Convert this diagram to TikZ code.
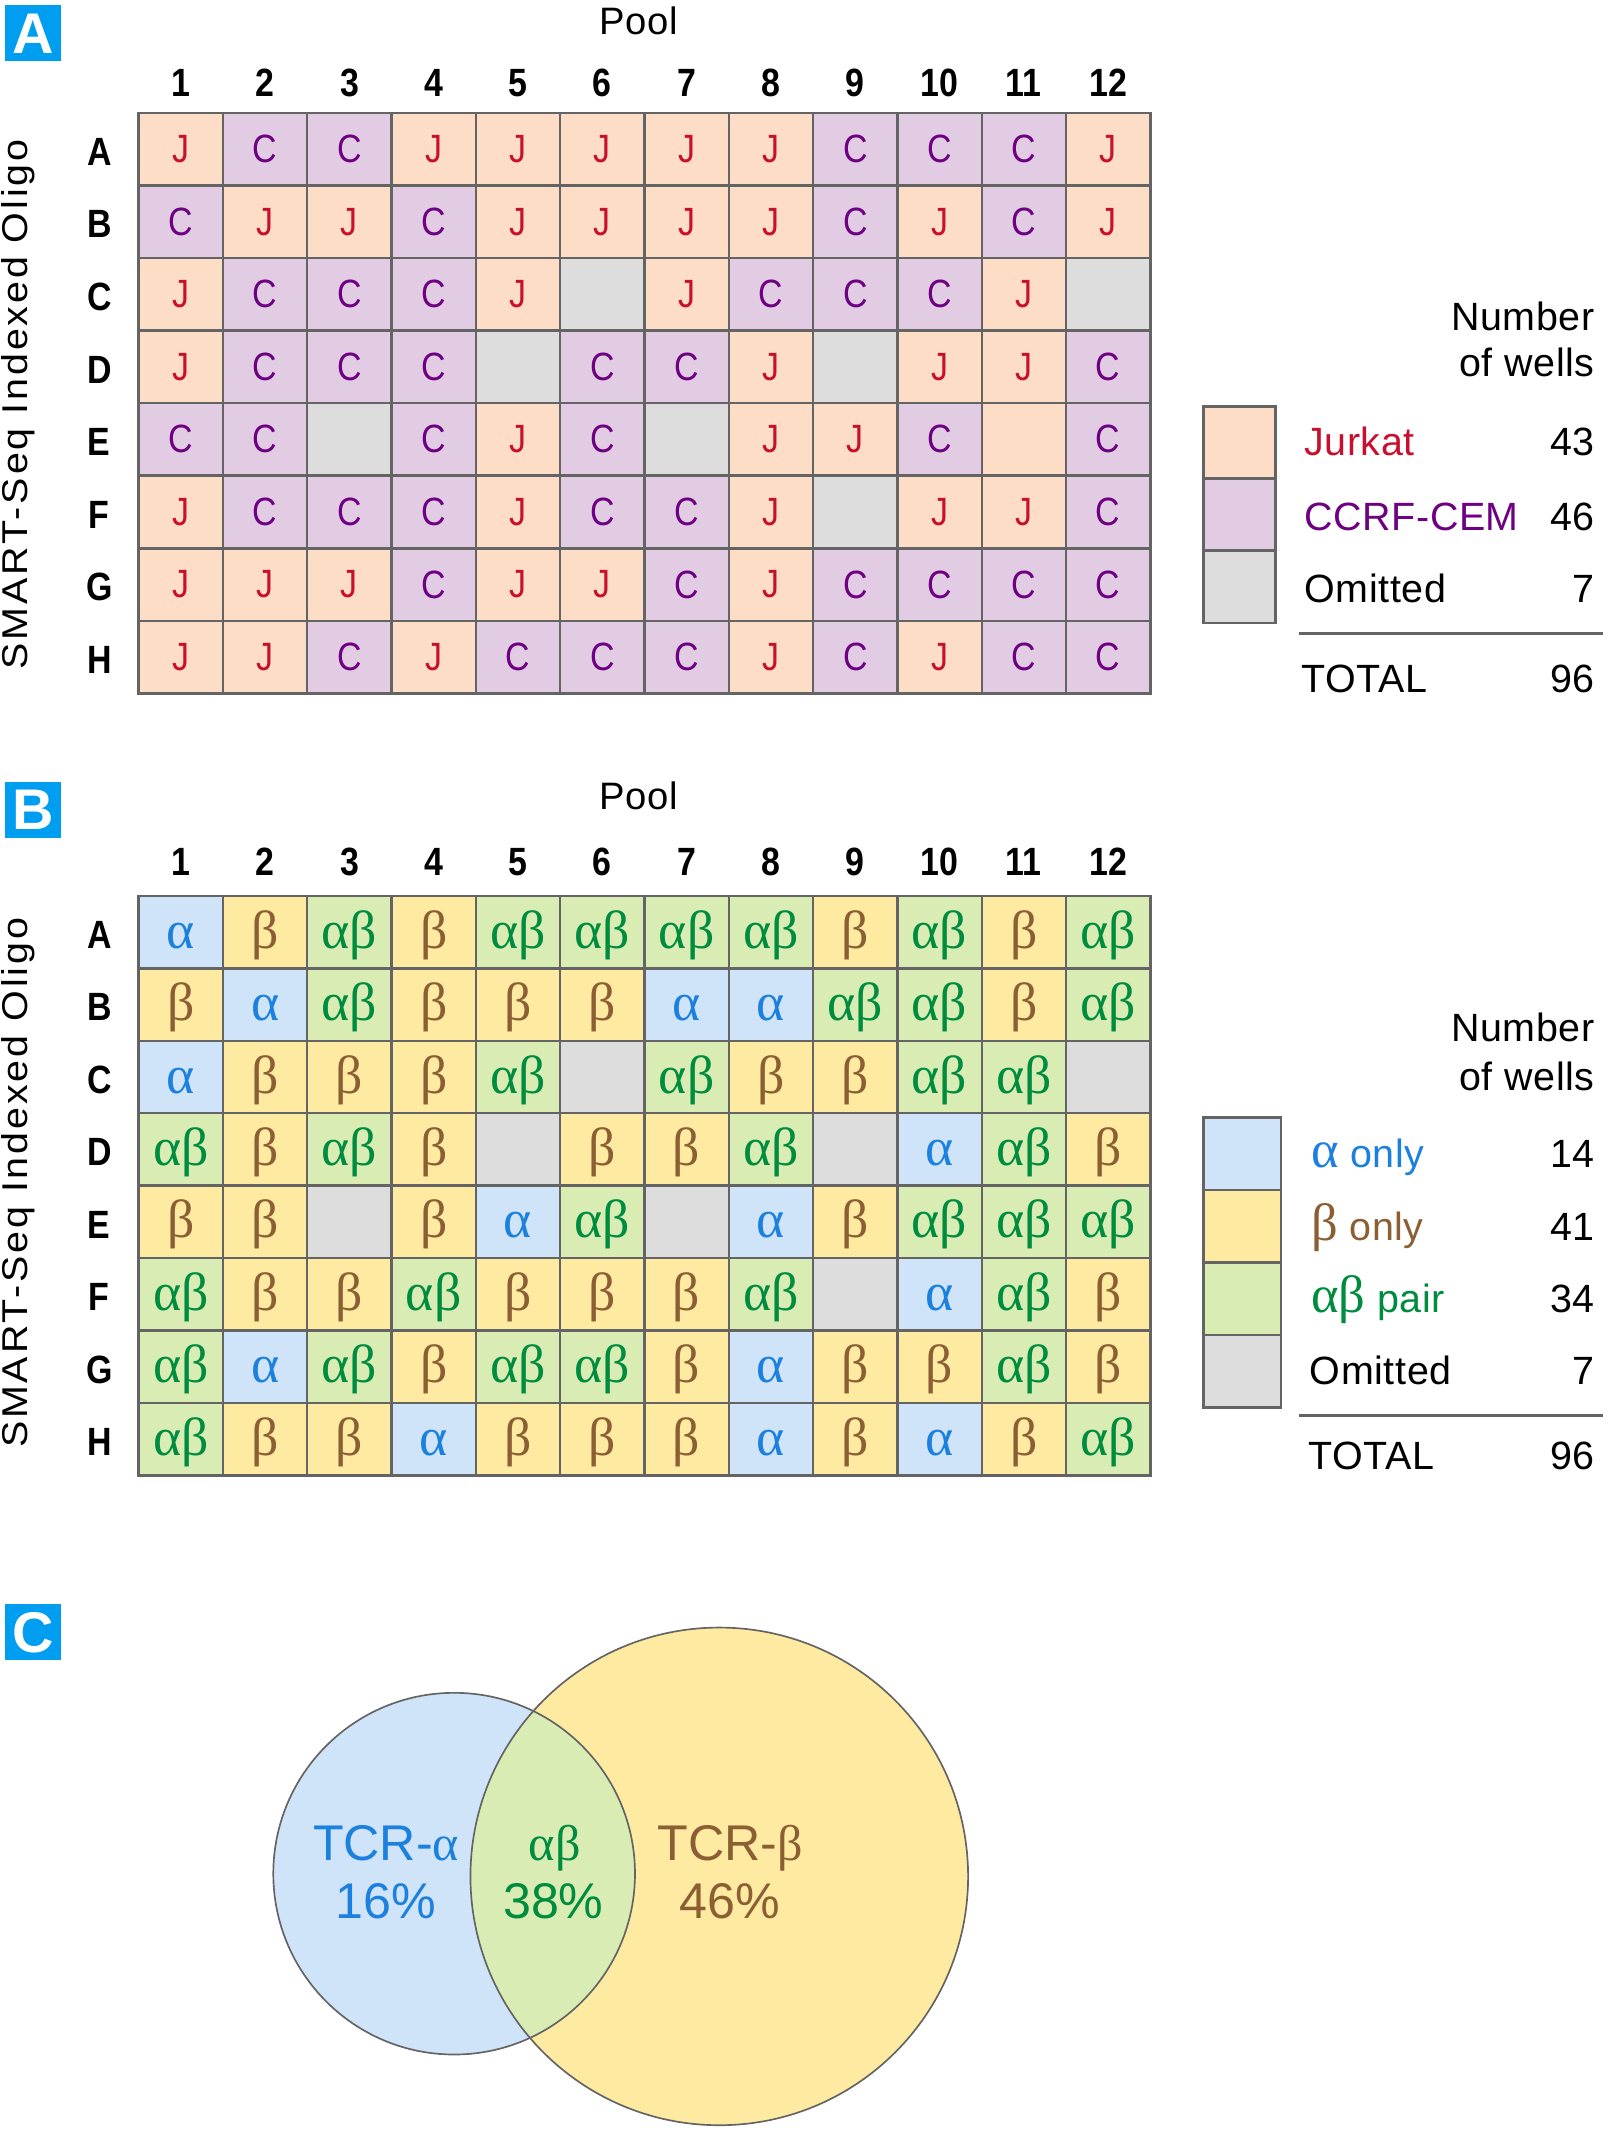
\documentclass[tikz,border=0pt]{standalone}
\usepackage{fontspec}
\usepackage{xcolor}
\setmainfont{Liberation Sans}
\newfontfamily\cellfont[FakeStretch=0.86]{Liberation Sans}
\newfontfamily\greekfont{Liberation Serif}
\newfontfamily\sidefont[FakeStretch=1.1,LetterSpace=8]{Liberation Sans}
\newfontfamily\legfont[LetterSpace=1.5]{Liberation Sans}

\definecolor{panelblue}{RGB}{0,158,240}
\definecolor{jurkatbg}{RGB}{253,221,198}
\definecolor{cembg}{RGB}{226,204,228}
\definecolor{omitbg}{RGB}{220,221,220}
\definecolor{jurkattxt}{RGB}{200,16,46}
\definecolor{cemtxt}{RGB}{110,0,130}
\definecolor{alphabg}{RGB}{207,228,248}
\definecolor{betabg}{RGB}{254,234,160}
\definecolor{pairbg}{RGB}{216,236,180}
\definecolor{alphatxt}{RGB}{28,128,222}
\definecolor{betatxt}{RGB}{140,94,52}
\definecolor{pairtxt}{RGB}{0,140,62}
\definecolor{gridline}{RGB}{100,100,100}

\tikzset{
	well/.style={draw=gridline, line width=1pt, minimum width=12.4mm, minimum height=10.66mm, inner sep=0pt, font=\cellfont\fontsize{16.5}{18}\selectfont},
	wellJ/.style={well, fill=jurkatbg, text=jurkattxt, node contents={J}},
	wellC/.style={well, fill=cembg, text=cemtxt, node contents={C}},
	wellX/.style={well, fill=jurkatbg, node contents={}},
	wellO/.style={well, fill=omitbg, node contents={}},
	gwell/.style={well, font=\greekfont\fontsize{22.5}{24}\selectfont, text height=16pt, text depth=2.6pt},
	wella/.style={gwell, fill=alphabg, text=alphatxt, node contents={α}},
	wellb/.style={gwell, fill=betabg, text=betatxt, node contents={β}},
	wellp/.style={gwell, fill=pairbg, text=pairtxt, node contents={αβ}},
	rowlab/.style={inner sep=0pt, font=\cellfont\bfseries\fontsize{16.5}{18}\selectfont},
	collab/.style={inner sep=0pt, font=\cellfont\bfseries\fontsize{16.5}{18}\selectfont},
	poollab/.style={inner sep=0pt, font=\legfont\fontsize{16}{18}\selectfont},
	sidelab/.style={rotate=90, anchor=base, inner sep=0pt, font=\sidefont\fontsize{15}{16}\selectfont},
	plab/.style={fill=panelblue, text=white, minimum size=8.2mm, inner sep=0pt, font=\bfseries\fontsize{24}{24}\selectfont},
	swatch/.style={draw=gridline, line width=1pt, minimum width=10.6mm, minimum height=10.66mm, inner sep=0pt},
	legtxt/.style={anchor=base west, inner sep=0pt, font=\legfont\fontsize{16.5}{18}\selectfont},
	legnum/.style={anchor=base east, inner sep=0pt, font=\legfont\fontsize{16.5}{18}\selectfont},
	legrule/.style={draw=gridline, line width=1pt},
	venntxt/.style={anchor=base, inner sep=0pt, font=\fontsize{21}{22}\selectfont},
	vennline/.style={draw=gridline, line width=0.7pt}
}

\begin{document}
\begin{tikzpicture}[x=0.2mm, y=-0.2mm]
	\useasboundingbox (0,0) rectangle (1183,1568);
	
	%panel A
	\node[plab] (labA) at (24.5,24.5) {A};
	\node[poollab] (poolA) at (470,15) {Pool};
	\node[sidelab] (sideA) at (20,297.5) {SMART-Seq Indexed Oligo};
	\foreach \c in {1,...,12}
		\node[collab] (ca\c) at ({71+62*\c},61) {\c};
	\foreach \l [count=\r] in {A,...,H}
		\node[rowlab] (ra\r) at (73,{56.3+53.375*\r+2}) {\l};
	\foreach \row [count=\r] in {
		{J,C,C,J,J,J,J,J,C,C,C,J},
		{C,J,J,C,J,J,J,J,C,J,C,J},
		{J,C,C,C,J,O,J,C,C,C,J,O},
		{J,C,C,C,O,C,C,J,O,J,J,C},
		{C,C,O,C,J,C,O,J,J,C,X,C},
		{J,C,C,C,J,C,C,J,O,J,J,C},
		{J,J,J,C,J,J,C,J,C,C,C,C},
		{J,J,C,J,C,C,C,J,C,J,C,C}}{
		\foreach \w [count=\c] in \row
			\node (a\r-\c) at ({71+62*\c},{56.3+53.375*\r}) [well\w];
	}
	
	\node[legnum] (numA) at (1173,243) {Number};
	\node[legnum] (wellsA) at (1173,277) {of wells};
	\node[swatch, fill=jurkatbg] (swJ) at (911.5,325.5) {};
	\node[swatch, fill=cembg] (swC) at (911.5,378.5) {};
	\node[swatch, fill=omitbg] (swOA) at (911.5,431.5) {};
	\node[legtxt, text=jurkattxt] (txJ) at (959,335) {Jurkat};
	\node[legtxt, text=cemtxt] (txC) at (959,390) {CCRF-CEM};
	\node[legtxt] (txOA) at (959,443) {Omitted};
	\node[legnum] (nJ) at (1173,335) {43};
	\node[legnum] (nC) at (1173,390) {46};
	\node[legnum] (nOA) at (1173,443) {7};
	\coordinate (ruleA1) at (955,466);
	\coordinate (ruleA2) at (1179,466);
	\draw[legrule] (ruleA1) -- (ruleA2);
	\node[legtxt] (totA) at (957,509) {TOTAL};
	\node[legnum] (nTA) at (1173,509) {96};
	
	%panel B
	\node[plab] (labB) at (24.5,595.5) {B};
	\node[poollab] (poolB) at (470,585) {Pool};
	\node[sidelab] (sideB) at (20,870) {SMART-Seq Indexed Oligo};
	\foreach \c in {1,...,12}
		\node[collab] (cb\c) at ({71+62*\c},634) {\c};
	\foreach \l [count=\r] in {A,...,H}
		\node[rowlab] (rb\r) at (73,{632.4+53.25*\r+2}) {\l};
	\foreach \row [count=\r] in {
		{a,b,p,b,p,p,p,p,b,p,b,p},
		{b,a,p,b,b,b,a,a,p,p,b,p},
		{a,b,b,b,p,O,p,b,b,p,p,O},
		{p,b,p,b,O,b,b,p,O,a,p,b},
		{b,b,O,b,a,p,O,a,b,p,p,p},
		{p,b,b,p,b,b,b,p,O,a,p,b},
		{p,a,p,b,p,p,b,a,b,b,p,b},
		{p,b,b,a,b,b,b,a,b,a,b,p}}{
		\foreach \w [count=\c] in \row
			\node (b\r-\c) at ({71+62*\c},{632.4+53.25*\r}) [well\w];
	}
	
	\node[legnum] (numB) at (1173,766) {Number};
	\node[legnum] (wellsB) at (1173,802) {of wells};
	\node[swatch, minimum width=11.4mm, fill=alphabg] (swa) at (913.5,848.6) {};
	\node[swatch, minimum width=11.4mm, fill=betabg] (swb) at (913.5,901.9) {};
	\node[swatch, minimum width=11.4mm, fill=pairbg] (swp) at (913.5,955.1) {};
	\node[swatch, minimum width=11.4mm, fill=omitbg] (swOB) at (913.5,1008.4) {};
	\node[legtxt, text=alphatxt] (txa) at (964,859) {{\greekfont\fontsize{22}{22}\selectfont α} only};
	\node[legtxt, text=betatxt] (txb) at (964,912) {{\greekfont\fontsize{22}{22}\selectfont β} only};
	\node[legtxt, text=pairtxt] (txp) at (964,965) {{\greekfont\fontsize{22}{22}\selectfont αβ} pair};
	\node[legtxt] (txOB) at (963,1018) {Omitted};
	\node[legnum] (na) at (1173,859) {14};
	\node[legnum] (nb) at (1173,912) {41};
	\node[legnum] (np) at (1173,965) {34};
	\node[legnum] (nOB) at (1173,1018) {7};
	\coordinate (ruleB1) at (955,1041);
	\coordinate (ruleB2) at (1179,1041);
	\draw[legrule] (ruleB1) -- (ruleB2);
	\node[legtxt] (totB) at (962,1081) {TOTAL};
	\node[legnum] (nTB) at (1173,1081) {96};
	
	%panel C
	\node[plab] (labC) at (24.5,1200.5) {C};
	\coordinate (tcrA) at (334,1378);
	\coordinate (tcrB) at (529,1380);
	\fill[betabg] (tcrB) circle (3.66cm);
	\fill[alphabg] (tcrA) circle (2.66cm);
	\begin{scope}
		\clip (tcrA) circle (2.66cm);
		\fill[pairbg] (tcrB) circle (3.66cm);
	\end{scope}
	\draw[vennline] (tcrB) circle (3.66cm);
	\draw[vennline] (tcrA) circle (2.66cm);
	\node[venntxt, text=alphatxt] (vA) at (284,1368) {TCR-{\greekfont α}};
	\node[venntxt, text=alphatxt] (pA) at (284,1411) {16\%};
	\node[venntxt, text=pairtxt] (vP) at (408,1368) {{\greekfont αβ}};
	\node[venntxt, text=pairtxt] (pP) at (407,1411) {38\%};
	\node[venntxt, text=betatxt] (vB) at (537,1368) {TCR-{\greekfont β}};
	\node[venntxt, text=betatxt] (pB) at (536.5,1411) {46\%};
\end{tikzpicture}
\end{document}
